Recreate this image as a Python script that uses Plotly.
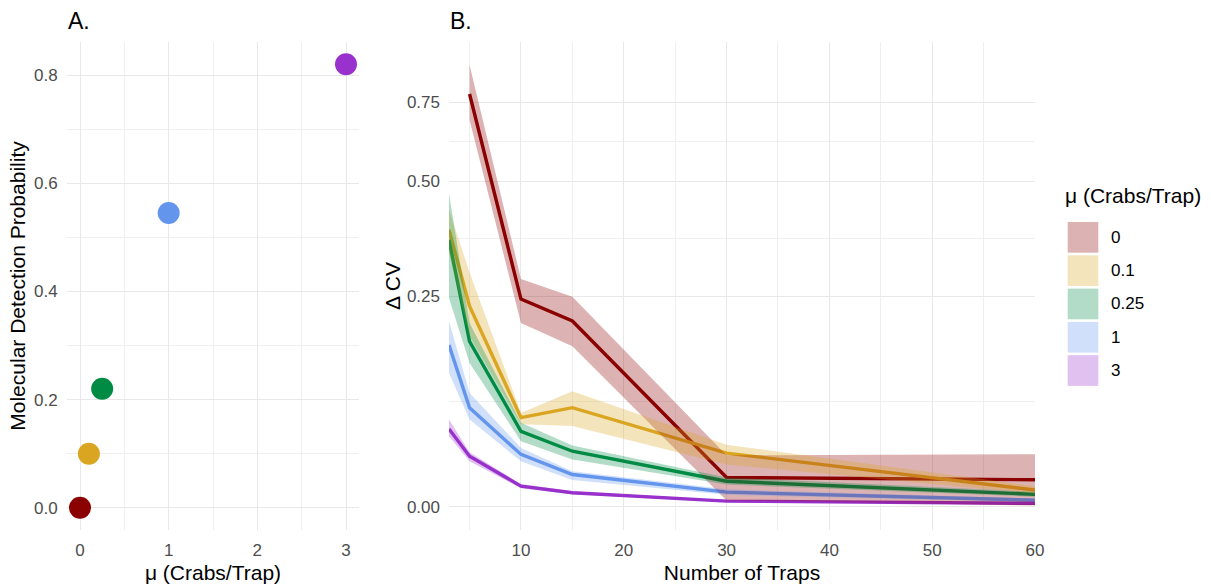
import math
import plotly.graph_objects as go

W, H = 1211, 588

# ---------------- data ----------------
mu_labels = ["0", "0.1", "0.25", "1", "3"]
mu_values = [0, 0.1, 0.25, 1, 3]
detect_prob = [0.0, 0.10, 0.22, 0.545, 0.82]
colors = ["#8B0000", "#DAA520", "#008B45", "#6495ED", "#9932CC"]

traps_all = [3, 5, 10, 15, 30, 60]
traps_mu0 = [5, 10, 15, 30, 60]

cv_mu0 = [0.78, 0.245, 0.209, 0.024, 0.022]
lo_mu0 = [0.687, 0.206, 0.171, 0.005, 0.001]
hi_mu0 = [0.896, 0.281, 0.249, 0.044, 0.045]

cv_mu01 = [0.381, 0.233, 0.082, 0.093, 0.046, 0.0134]
lo_mu01 = [0.330, 0.186, 0.075, 0.073, 0.0355, 0.0105]
hi_mu01 = [0.428, 0.293, 0.087, 0.112, 0.054, 0.0165]

cv_mu025 = [0.359, 0.178, 0.0676, 0.0478, 0.0208, 0.0099]
lo_mu025 = [0.247, 0.148, 0.0576, 0.040, 0.018, 0.008]
hi_mu025 = [0.469, 0.206, 0.0765, 0.0534, 0.024, 0.012]

cv_mu1 = [0.173, 0.0928, 0.0448, 0.0266, 0.0117, 0.0052]
lo_mu1 = [0.135, 0.080, 0.0384, 0.0218, 0.0095, 0.0040]
hi_mu1 = [0.2086, 0.110, 0.051, 0.0295, 0.014, 0.0065]

cv_mu3 = [0.070, 0.0431, 0.0166, 0.0112, 0.0045, 0.0028]
lo_mu3 = [0.0626, 0.0384, 0.0148, 0.0100, 0.0038, 0.0022]
hi_mu3 = [0.080, 0.0468, 0.0185, 0.0125, 0.0052, 0.0034]

a_xticks = [0, 1, 2, 3]
a_yticks = [0.0, 0.2, 0.4, 0.6, 0.8]
b_xticks = [10, 20, 30, 40, 50, 60]
b_yticks = [0.0, 0.25, 0.50, 0.75]

# ΔCV axis uses a shifted log scale: log10(ΔCV + 0.2)
SHIFT = 0.2


def tr(vals):
    return [v + SHIFT for v in vals]


def rgba(hex_c, a):
    h = hex_c.lstrip("#")
    r, g, b = int(h[0:2], 16), int(h[2:4], 16), int(h[4:6], 16)
    return f"rgba({r},{g},{b},{a})"


FONT = "Liberation Sans, Arial, sans-serif"
GRID = "#E8E8E8"
GRID_MINOR = "#EFEFEF"
TICKC = "#4D4D4D"

fig = go.Figure()

# ---------------- Panel A ----------------
for m, p, c in zip(mu_values, detect_prob, colors):
    fig.add_trace(go.Scatter(x=[m], y=[p], mode="markers",
                             marker=dict(size=22, color=c, line=dict(width=0)),
                             xaxis="x", yaxis="y", showlegend=False, hoverinfo="skip"))

# ---------------- Panel B ----------------
series = [
    (traps_mu0, cv_mu0, lo_mu0, hi_mu0),
    (traps_all, cv_mu01, lo_mu01, hi_mu01),
    (traps_all, cv_mu025, lo_mu025, hi_mu025),
    (traps_all, cv_mu1, lo_mu1, hi_mu1),
    (traps_all, cv_mu3, lo_mu3, hi_mu3),
]

for (xs, mid, lo, hi), c in zip(series, colors):
    fig.add_trace(go.Scatter(x=xs, y=tr(mid), mode="lines",
                             line=dict(color=c, width=3.4),
                             xaxis="x2", yaxis="y2", showlegend=False, hoverinfo="skip"))

for (xs, mid, lo, hi), c in zip(series, colors):
    fig.add_trace(go.Scatter(x=list(xs) + list(xs)[::-1], y=tr(hi) + tr(lo)[::-1],
                             mode="lines", fill="toself", fillcolor=rgba(c, 0.3),
                             line=dict(width=0), xaxis="x2", yaxis="y2",
                             showlegend=False, hoverinfo="skip"))

# pixel -> paper helpers
def pxx(p):
    return p / W


def pxy(p):
    return 1 - p / H


ydom = [pxy(530), pxy(42)]

b_ytr = tr(b_yticks)
b_yminor = [math.sqrt(b_ytr[i] * b_ytr[i + 1]) for i in range(len(b_ytr) - 1)]

common = dict(showgrid=True, gridcolor=GRID, gridwidth=1, zeroline=False,
              showline=False, ticks="", automargin=False,
              tickfont=dict(family=FONT, size=17, color=TICKC))


def minor(vals):
    return dict(tickmode="array", tickvals=vals, showgrid=True,
                gridcolor=GRID_MINOR, gridwidth=1)


fig.update_layout(
    width=W, height=H,
    margin=dict(l=0, r=0, t=0, b=0, pad=0),
    paper_bgcolor="white", plot_bgcolor="white",
    showlegend=False, hovermode=False,
    font=dict(family=FONT, color="black"),
    xaxis=dict(domain=[pxx(66.7), pxx(359.3)], range=[-0.15, 3.15], anchor="y",
               tickmode="array", tickvals=a_xticks, ticktext=[str(v) for v in a_xticks],
               ticklabelstandoff=8, minor=minor([0.5, 1.5, 2.5]),
               title=dict(text="μ (Crabs/Trap)", font=dict(family=FONT, size=21, color="black"),
                          standoff=6),
               **common),
    yaxis=dict(domain=ydom, range=[-0.041, 0.861], anchor="x",
               tickmode="array", tickvals=a_yticks, ticktext=[f"{v:.1f}" for v in a_yticks],
               ticklabelstandoff=8, minor=minor([0.1, 0.3, 0.5, 0.7]),
               title=dict(text="Molecular Detection Probability",
                          font=dict(family=FONT, size=21, color="black"), standoff=2),
               **common),
    xaxis2=dict(domain=[pxx(449), pxx(1035)], range=[3, 60], anchor="y2",
                tickmode="array", tickvals=b_xticks, ticktext=[str(v) for v in b_xticks],
                ticklabelstandoff=8, minor=minor([5, 15, 25, 35, 45, 55]),
                title=dict(text="Number of Traps", font=dict(family=FONT, size=21, color="black"),
                           standoff=6),
                **common),
    yaxis2=dict(domain=ydom, type="log",
                range=[math.log10(SHIFT - 0.017), math.log10(SHIFT + 0.997)], anchor="x2",
                tickmode="array", tickvals=b_ytr, ticktext=[f"{v:.2f}" for v in b_yticks],
                ticklabelstandoff=8, minor=minor(b_yminor),
                title=dict(text="Δ CV", font=dict(family=FONT, size=21, color="black"),
                           standoff=0),
                **common),
)

# panel titles
fig.add_annotation(text="A.", x=pxx(66), y=pxy(21), xref="paper", yref="paper",
                   xanchor="left", yanchor="middle", showarrow=False,
                   font=dict(family=FONT, size=23, color="black"))
fig.add_annotation(text="B.", x=pxx(448), y=pxy(21), xref="paper", yref="paper",
                   xanchor="left", yanchor="middle", showarrow=False,
                   font=dict(family=FONT, size=23, color="black"))

# legend (fill keys)
fig.add_annotation(text="μ (Crabs/Trap)", x=pxx(1063), y=pxy(196), xref="paper", yref="paper",
                   xanchor="left", yanchor="middle", showarrow=False,
                   font=dict(family=FONT, size=21, color="black"))
key_top0, key_step, key_h = 222, 33.3, 30.7
for i, (lab, c) in enumerate(zip(mu_labels, colors)):
    top = key_top0 + i * key_step
    fig.add_shape(type="rect", xref="paper", yref="paper",
                  x0=pxx(1067.7), x1=pxx(1098.3), y0=pxy(top + key_h), y1=pxy(top),
                  fillcolor=rgba(c, 0.3), line=dict(width=0))
    fig.add_annotation(text=lab, x=pxx(1109), y=pxy(top + key_h / 2), xref="paper", yref="paper",
                       xanchor="left", yanchor="middle", showarrow=False,
                       font=dict(family=FONT, size=17, color="black"))

fig.write_html("out.html",
               config={"displayModeBar": False},
               post_script="document.body.style.margin='0';document.body.style.overflow='hidden';")
